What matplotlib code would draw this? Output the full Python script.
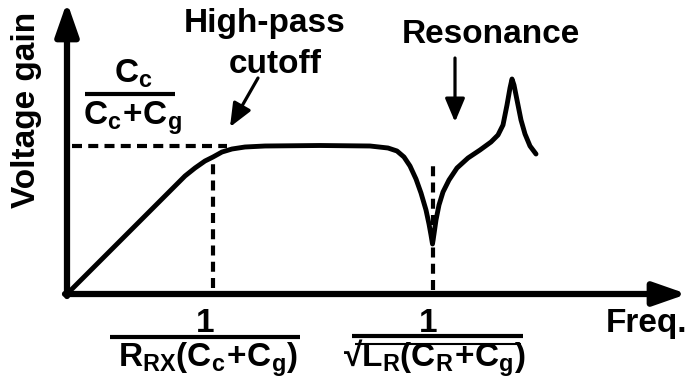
import matplotlib
matplotlib.use('Agg')
import matplotlib.pyplot as plt

plt.rcParams['font.family'] = ['Liberation Sans', 'DejaVu Sans']
plt.rcParams['font.weight'] = 'bold'
plt.rcParams['mathtext.fontset'] = 'custom'
plt.rcParams['mathtext.rm'] = 'Liberation Sans:bold'
plt.rcParams['mathtext.it'] = 'Liberation Sans:bold'
plt.rcParams['mathtext.bf'] = 'Liberation Sans:bold'

# sketch of the gain response (arbitrary units)
freq = [0.00, 1.18, 1.28, 1.38, 1.46, 1.55, 1.65, 1.78, 1.98, 2.53, 3.03, 3.21,
        3.30, 3.37, 3.43, 3.49, 3.54, 3.59, 3.62, 3.64, 3.655, 3.67, 3.69, 3.72,
        3.76, 3.82, 3.90, 4.01, 4.13, 4.24, 4.31, 4.36, 4.40, 4.43, 4.45, 4.47,
        4.50, 4.54, 4.58, 4.63, 4.69]
gain = [0.00, 1.18, 1.26, 1.33, 1.37, 1.42, 1.45, 1.47, 1.48, 1.485, 1.48, 1.46,
        1.43, 1.37, 1.28, 1.15, 1.01, 0.84, 0.70, 0.59, 0.50, 0.60, 0.74, 0.89,
        1.02, 1.14, 1.26, 1.36, 1.44, 1.52, 1.59, 1.69, 1.89, 2.06, 2.15, 2.09,
        1.94, 1.74, 1.60, 1.48, 1.40]

passband_gain = 1.48
cutoff_freq = 1.46
cutoff_gain = 1.37
notch_freq = 3.66
notch_top = 1.31

fs = 24

fig = plt.figure(figsize=(6.89, 3.91), dpi=100)
ax = fig.add_axes([0, 0, 1, 1])
ax.set_xlim(-0.67, 6.22)
ax.set_ylim(-0.97, 2.94)
ax.axis('off')

# axes with arrow heads
axis_arrow = dict(arrowstyle='-|>,head_length=1.0,head_width=0.35', lw=4.5,
                  color='black', mutation_scale=20, shrinkA=0, shrinkB=0)
ax.annotate('', xy=(0, 2.92), xytext=(0, -0.02), arrowprops=axis_arrow)
ax.annotate('', xy=(6.20, 0), xytext=(-0.02, 0), arrowprops=axis_arrow)

# guide lines
dash = (0, (2.4, 1.5))
ax.plot([0.05, 1.60], [passband_gain, passband_gain], color='black', lw=3, linestyle=dash)
ax.plot([cutoff_freq, cutoff_freq], [0.06, cutoff_gain], color='black', lw=3, linestyle=dash)
ax.plot([notch_freq, notch_freq], [0.04, notch_top], color='black', lw=3, linestyle=dash)

ax.plot(freq, gain, color='black', lw=3.5, solid_joinstyle='round', solid_capstyle='round')

# pointer arrows
pointer = dict(arrowstyle='-|>,head_length=0.95,head_width=0.4', lw=2.3,
               color='black', mutation_scale=15, shrinkA=0, shrinkB=0)
ax.annotate('', xy=(1.63, 1.67), xytext=(1.91, 2.16), arrowprops=pointer)
ax.annotate('', xy=(3.88, 1.72), xytext=(3.88, 2.36), arrowprops=pointer)

ax.text(-0.40, 1.84, 'Voltage gain', rotation=90, ha='center', va='center', fontsize=fs)
ax.text(1.98, 2.62, 'High-pass', ha='center', va='baseline', fontsize=fs)
ax.text(2.08, 2.21, 'cutoff', ha='center', va='baseline', fontsize=fs)
ax.text(4.24, 2.51, 'Resonance', ha='center', va='baseline', fontsize=fs)
ax.text(6.20, -0.38, 'Freq.', ha='right', va='baseline', fontsize=fs)

# passband level label
ax.text(0.66, 2.11, r'$\mathrm{C_c}$', ha='center', va='baseline', fontsize=fs)
ax.plot([0.18, 1.08], [2.00, 2.00], color='black', lw=3, solid_capstyle='butt')
ax.text(0.65, 1.69, r'$\mathrm{C_c\!+\!C_g}$', ha='center', va='baseline', fontsize=fs)

# cutoff frequency label
ax.text(1.38, -0.38, '1', ha='center', va='baseline', fontsize=fs)
ax.plot([0.43, 2.33], [-0.43, -0.43], color='black', lw=3, solid_capstyle='butt')
ax.text(1.41, -0.73, r'$\mathrm{R_{RX}(C_c\!+\!C_g)}$', ha='center', va='baseline', fontsize=fs)

# resonance frequency label, radical as glyph plus overline
ax.text(3.61, -0.38, '1', ha='center', va='baseline', fontsize=fs)
ax.plot([2.85, 4.56], [-0.42, -0.42], color='black', lw=3, solid_capstyle='butt')
ax.plot([2.88, 4.54], [-0.50, -0.50], color='black', lw=1.5, solid_capstyle='butt')
ax.text(2.76, -0.73, r'√$\mathrm{L_R(C_R\!+\!C_g)}$', ha='left', va='baseline', fontsize=fs)

fig.savefig('out.png', dpi=100)
